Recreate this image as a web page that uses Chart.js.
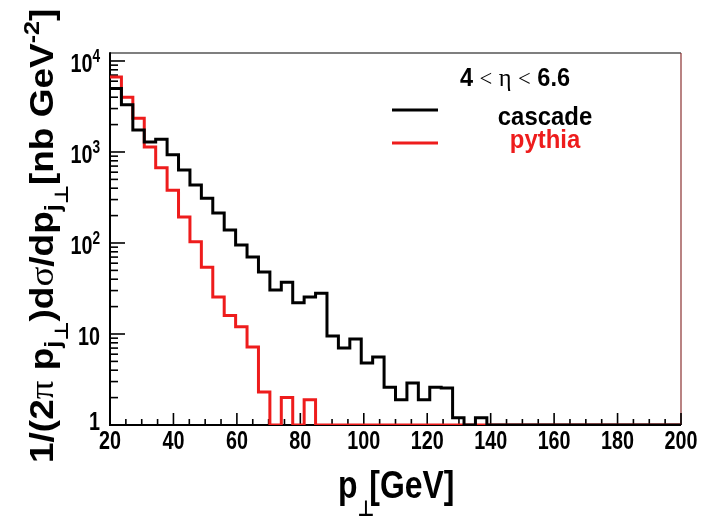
<!DOCTYPE html>
<html>
<head>
<meta charset="utf-8">
<script src="https://cdn.jsdelivr.net/npm/chart.js@4.4.1/dist/chart.umd.min.js"></script>
<style>
  html, body { margin: 0; padding: 0; background: #fff; }
  canvas { display: block; }
</style>
</head>
<body>
<canvas id="c" width="703" height="519"></canvas>
<script>
// Jet transverse-momentum spectra, 4 < eta < 6.6, histogrammed in 3.6 GeV bins.
const binEdges = [
  20, 23.6, 27.2, 30.8, 34.4, 38, 41.6, 45.2, 48.8, 52.4,
  56, 59.6, 63.2, 66.8, 70.4, 74, 77.6, 81.2, 84.8, 88.4,
  92, 95.6, 99.2, 102.8, 106.4, 110, 113.6, 117.2, 120.8, 124.4,
  128, 131.6, 135.2, 138.8, 142.4, 146, 149.6, 153.2, 156.8, 160.4,
  164, 167.6, 171.2, 174.8, 178.4, 182, 185.6, 189.2, 192.8, 196.4, 200
];

// Bin contents [nb GeV^-2]; 0 = empty bin
const cascade = [
  5000, 3300, 1740, 1290, 1380, 930, 635, 435, 310, 214,
  139, 95, 70, 48, 30.5, 37, 22, 25.5, 28, 9.5,
  7.0, 8.8, 4.8, 5.6, 2.6, 1.9, 2.9, 1.9, 2.6, 2.55,
  1.2, 0, 1.2, 0, 0, 0, 0, 0, 0, 0,
  0, 0, 0, 0, 0, 0, 0, 0, 0, 0
];
const pythia = [
  6650, 4000, 2350, 1135, 670, 380, 193, 103, 54, 25.5,
  16, 12, 7.2, 2.3, 0, 2.0, 0, 1.9, 0, 0,
  0, 0, 0, 0, 0, 0, 0, 0, 0, 0,
  0, 0, 0, 0, 0, 0, 0, 0, 0, 0,
  0, 0, 0, 0, 0, 0, 0, 0, 0, 0
];

const xMajorTicks = [20, 40, 60, 80, 100, 120, 140, 160, 180, 200];
const xTickLabels = ['20', '40', '60', '80', '100', '120', '140', '160', '180', '200'];
const xMinorStep = 5;
const yDecades = [1, 10, 100, 1000, 10000];
const yTickLabels = [['1', ''], ['10', ''], ['10', '2'], ['10', '3'], ['10', '4']];

const X_MIN = 20, X_MAX = 200;
const Y_MIN = 1, Y_MAX = 12240;

const SANS = "'Liberation Sans', Arial, sans-serif";
const SERIF = "'Liberation Serif', 'DejaVu Serif', serif";
const SYM = "'DejaVu Sans', sans-serif";
const RED = '#ee1c1c';

// histogram outline as step points at bin edges; empty bins sit on the axis floor
function histPoints(values) {
  const pts = values.map((v, i) => ({ x: binEdges[i], y: Math.max(v, Y_MIN) }));
  pts.push({ x: binEdges[values.length], y: Math.max(values[values.length - 1], Y_MIN) });
  return pts;
}

// draws a run of text pieces (sub/superscripts, symbol glyphs) from one anchor
function drawRich(ctx, segs, x, y, opts) {
  ctx.save();
  ctx.translate(x, y);
  if (opts.rot) ctx.rotate(opts.rot);
  ctx.scale(opts.sx || 1, opts.sy || 1);
  ctx.textBaseline = 'alphabetic';
  ctx.textAlign = 'left';
  let w = 0;
  segs.forEach(s => { ctx.font = s.font; s._w = ctx.measureText(s.t).width + (s.kern || 0); w += s._w; });
  let cx = opts.align === 'center' ? -w / 2 : (opts.align === 'right' ? -w : 0);
  segs.forEach(s => {
    ctx.font = s.font;
    ctx.fillStyle = s.color || opts.color || '#000';
    ctx.fillText(s.t, cx, s.dy || 0);
    cx += s._w;
  });
  ctx.restore();
}

function seg(ctx, x1, y1, x2, y2) {
  ctx.beginPath(); ctx.moveTo(x1, y1); ctx.lineTo(x2, y2); ctx.stroke();
}

const framePlugin = {
  id: 'frame',
  beforeDatasetsDraw(chart) {
    const { ctx, chartArea: { left, right, top, bottom }, scales: { x, y } } = chart;
    ctx.save();
    ctx.lineCap = 'butt';
    ctx.strokeStyle = '#555'; ctx.lineWidth = 1.5;
    seg(ctx, left, top, right, top);
    ctx.strokeStyle = '#8a3030'; ctx.lineWidth = 1.2;
    seg(ctx, right, top, right, bottom);
    ctx.strokeStyle = '#000'; ctx.lineWidth = 2;
    seg(ctx, left, top - 0.75, left, bottom + 1);
    seg(ctx, left - 1, bottom, right, bottom);
    // x ticks, pointing into the frame
    ctx.lineWidth = 1.6;
    for (let v = X_MIN; v <= X_MAX; v += xMinorStep) {
      const px = x.getPixelForValue(v);
      const len = xMajorTicks.includes(v) ? 12 : 6;
      seg(ctx, px, bottom, px, bottom - len);
    }
    // y ticks on the log axis
    yDecades.forEach(d => {
      for (let m = 1; m <= 9; m++) {
        const v = d * m;
        if (v > Y_MAX) break;
        const py = y.getPixelForValue(v);
        seg(ctx, left, py, left + (m === 1 ? 15 : 8), py);
      }
    });
    ctx.restore();
  },
  afterDraw(chart) {
    const { ctx, chartArea: { left, bottom }, scales: { x, y } } = chart;
    const tickFont = `bold 26px ${SANS}`;
    xMajorTicks.forEach((v, i) => {
      drawRich(ctx, [{ t: xTickLabels[i], font: tickFont }], x.getPixelForValue(v), bottom + 24, { sx: 0.76, align: 'center' });
    });
    yDecades.forEach((d, i) => {
      const py = Math.min(y.getPixelForValue(d) + 11, bottom + 5);
      const [base, sup] = yTickLabels[i];
      const segs = [{ t: base, font: tickFont }];
      if (sup) segs.push({ t: sup, font: `bold 18px ${SANS}`, dy: -10 });
      drawRich(ctx, segs, left - 10, py, { sx: 0.76, align: 'right' });
    });

    // x-axis title
    drawRich(ctx, [
      { t: 'p', font: `bold 38px ${SANS}` },
      { t: '\u22A5', font: `bold 22px ${SYM}`, dy: 18, kern: -6 },
      { t: '[GeV]', font: `bold 38px ${SANS}` }
    ], 338, 498, { sx: 0.84 });

    // y-axis title, rotated
    const B = `bold 37px ${SANS}`, S = `bold 25px ${SANS}`, P = `bold 21px ${SYM}`, G = `37px ${SERIF}`;
    drawRich(ctx, [
      { t: '1/(2', font: B },
      { t: '\u03C0', font: G },
      { t: ' p', font: B },
      { t: 'j', font: S, dy: 8 },
      { t: '\u22A5', font: P, dy: 17 },
      { t: ')d', font: B },
      { t: '\u03C3', font: G },
      { t: '/dp', font: B },
      { t: 'j', font: S, dy: 8 },
      { t: '\u22A5', font: P, dy: 17 },
      { t: '[nb GeV', font: B },
      { t: '-2', font: S, dy: -16 },
      { t: ']', font: B }
    ], 53, 463, { rot: -Math.PI / 2, sy: 0.9 });

    // legend
    const L = `bold 25px ${SANS}`;
    drawRich(ctx, [
      { t: '4 ', font: L },
      { t: '<', font: `24px ${SERIF}` },
      { t: ' ', font: L },
      { t: '\u03B7', font: `26px ${SERIF}` },
      { t: ' ', font: L },
      { t: '<', font: `24px ${SERIF}` },
      { t: ' 6.6', font: L }
    ], 515, 86, { sx: 0.94, align: 'center' });
    drawRich(ctx, [{ t: 'cascade', font: `bold 26px ${SANS}` }], 545, 125, { sx: 0.92, align: 'center' });
    drawRich(ctx, [{ t: 'pythia', font: `bold 26px ${SANS}`, color: RED }], 545, 148, { sx: 0.92, align: 'center' });
    ctx.save();
    ctx.lineWidth = 3;
    ctx.strokeStyle = '#000'; seg(ctx, 392, 110, 438, 110);
    ctx.strokeStyle = RED; seg(ctx, 392, 143, 438, 143);
    ctx.restore();
  }
};

new Chart(document.getElementById('c'), {
  type: 'line',
  data: {
    datasets: [
      { label: 'cascade', data: histPoints(cascade), borderColor: '#000', borderWidth: 3,
        stepped: 'before', pointRadius: 0, fill: false, borderJoinStyle: 'miter', borderCapStyle: 'butt' },
      { label: 'pythia', data: histPoints(pythia), borderColor: RED, borderWidth: 3,
        stepped: 'before', pointRadius: 0, fill: false, borderJoinStyle: 'miter', borderCapStyle: 'butt' }
    ]
  },
  options: {
    responsive: false,
    animation: false,
    events: [],
    layout: { padding: { left: 110, right: 22, top: 53, bottom: 94 } },
    plugins: { legend: { display: false }, tooltip: { enabled: false } },
    scales: {
      x: { type: 'linear', min: X_MIN, max: X_MAX, display: false },
      y: { type: 'logarithmic', min: Y_MIN, max: Y_MAX, display: false }
    }
  },
  plugins: [framePlugin]
});
</script>
</body>
</html>
